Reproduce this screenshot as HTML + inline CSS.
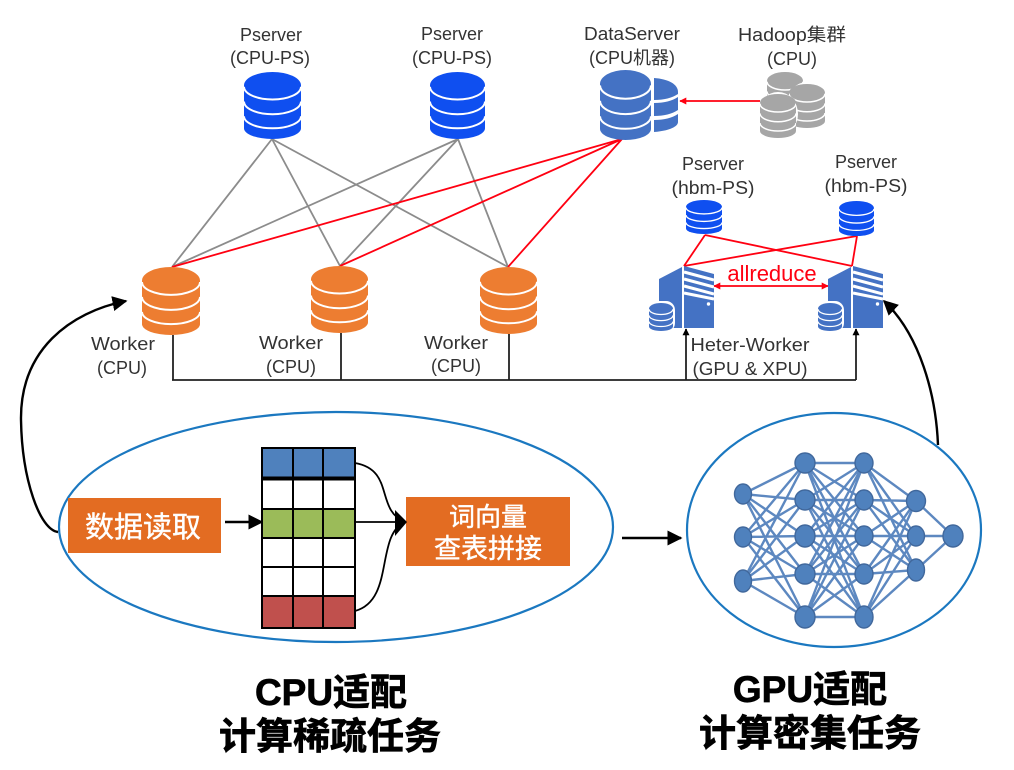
<!DOCTYPE html>
<html>
<head>
<meta charset="utf-8">
<style>
html,body{margin:0;padding:0;background:#fff;width:1014px;height:770px;overflow:hidden}
svg{display:block}
text{font-family:"Liberation Sans","Noto Sans CJK SC",sans-serif}
.l{font-size:18px;fill:#333;text-anchor:middle}
.w{fill:#fff;stroke:#fff;stroke-width:.4;text-anchor:middle}
.t{font-size:37px;font-weight:bold;fill:#000;stroke:#000;stroke-width:.7;text-anchor:middle}
</style>
</head>
<body>
<svg width="1014" height="770" viewBox="0 0 1014 770" xmlns="http://www.w3.org/2000/svg">
<defs>
<symbol id="db" viewBox="0 0 100 100" preserveAspectRatio="none">
<path d="M0 20A50 20 0 0 1 100 20V84A50 16 0 0 1 0 84Z" fill="currentColor"/>
<path vector-effect="non-scaling-stroke" d="M0 22A50 19 0 0 0 100 22M0 44A50 19 0 0 0 100 44M0 66A50 18 0 0 0 100 66" fill="none" stroke="#fff"/>
</symbol>
<marker id="ah" viewBox="0 0 10 10" refX="9" refY="5" markerWidth="7" markerHeight="7" orient="auto-start-reverse" markerUnits="userSpaceOnUse"><path d="M0 0L10 5L0 10Z" fill="#000"/></marker>
<marker id="ab" viewBox="0 0 10 10" refX="9" refY="5" markerWidth="15" markerHeight="15" orient="auto" markerUnits="userSpaceOnUse"><path d="M0 0L10 5L0 10Z" fill="#000"/></marker>
<marker id="ar" viewBox="0 0 10 10" refX="9" refY="5" markerWidth="7" markerHeight="7" orient="auto-start-reverse" markerUnits="userSpaceOnUse"><path d="M0 0L10 5L0 10Z" fill="#f01"/></marker>
<symbol id="srv" viewBox="0 0 55 63" preserveAspectRatio="none">
<path d="M0 13L23 1V62H0Z" fill="#4472c4"/>
<path d="M25 0L55 8V62H25Z" fill="#4472c4"/>
<path d="M25 6L55 14M25 13L55 21M25 20L55 28M25 27L55 33" stroke="#fff" stroke-width="3" fill="none"/>
<circle cx="49.5" cy="38" r="1.7" fill="#fff"/>
</symbol>
</defs>

<!-- gray connectors -->
<g stroke="#8c8c8c" stroke-width="1.8" fill="none">
<path d="M272 139L172 267M272 139L340 266M272 139L508 267M458 139L172 267M458 139L340 266M458 139L508 267"/>
</g>
<!-- red connectors -->
<g stroke="#f01" stroke-width="1.8" fill="none">
<path d="M622 139L172 267M622 139L340 266M622 139L508 267"/>
<path d="M705 235L684 266M705 235L852 266M857 236L684 266M857 236L852 266"/>
<path d="M760 101L680 101" marker-end="url(#ar)"/>
<path d="M714 286L828 286" marker-start="url(#ar)" marker-end="url(#ar)"/>
</g>

<!-- Pservers -->
<g stroke-width="2">
<use href="#db" x="244" y="72" width="57" height="67" color="#0f4ff0"/>
<use href="#db" x="430" y="72" width="55" height="67" color="#0f4ff0"/>
</g>
<g stroke-width="1.3">
<use href="#db" x="686" y="200" width="36" height="34" color="#0f4ff0"/>
<use href="#db" x="839" y="201" width="35" height="35" color="#0f4ff0"/>
</g>

<!-- DataServer -->
<use href="#db" x="600" y="70" width="51" height="70" color="#4472c4" stroke-width="2"/>
<path d="M654 78C668 79 678 84 678 92V94C672 98 664 100 654 100Z" fill="#4472c4"/>
<path d="M654 103C664 103 672 101 678 97V110C672 114 664 116 654 116Z" fill="#4472c4"/>
<path d="M654 120C664 120 672 118 678 114V122C678 127 668 131 654 132Z" fill="#4472c4"/>

<!-- Hadoop -->
<g stroke-width="1.5">
<use href="#db" x="767" y="72" width="36" height="44" color="#a6a6a6"/>
<ellipse cx="807" cy="104" rx="20" ry="22" fill="#fff"/>
<use href="#db" x="789" y="84" width="36" height="44" color="#a6a6a6"/>
<ellipse cx="778" cy="114" rx="20" ry="22" fill="#fff"/>
<use href="#db" x="760" y="94" width="36" height="44" color="#a6a6a6"/>
</g>

<!-- Workers -->
<g stroke-width="2">
<use href="#db" x="142" y="267" width="58" height="68" color="#ed7d31"/>
<use href="#db" x="311" y="266" width="57" height="67" color="#ed7d31"/>
<use href="#db" x="480" y="267" width="57" height="67" color="#ed7d31"/>
</g>

<!-- Heter workers -->
<use href="#srv" x="659" y="266" width="55" height="63"/>
<use href="#srv" x="828" y="266" width="55" height="63"/>
<rect x="647" y="301" width="28" height="31" rx="9" fill="#fff"/>
<rect x="816" y="301" width="28" height="31" rx="9" fill="#fff"/>
<g stroke-width="1.3">
<use href="#db" x="649" y="303" width="24" height="28" color="#4472c4"/>
<use href="#db" x="818" y="303" width="24" height="28" color="#4472c4"/>
</g>

<!-- black bus -->
<g stroke="#222" stroke-width="1.8" fill="none">
<path d="M173 335V380M341 333V380M509 334V380M172 380H856"/>
<path d="M686 380V329" marker-end="url(#ah)"/>
<path d="M856 380V329" marker-end="url(#ah)"/>
</g>

<!-- labels -->
<text class="l" x="271" y="41">Pserver</text><text class="l" x="270" y="64">(CPU-PS)</text>
<text class="l" x="452" y="40">Pserver</text><text class="l" x="452" y="64">(CPU-PS)</text>
<text class="l" x="632" y="40" textLength="96" lengthAdjust="spacingAndGlyphs">DataServer</text><text class="l" x="632" y="64">(CPU机器)</text>
<text class="l" x="792" y="41" textLength="108" lengthAdjust="spacingAndGlyphs">Hadoop集群</text><text class="l" x="792" y="65">(CPU)</text>
<text class="l" x="713" y="170">Pserver</text><text class="l" x="713" y="194" textLength="83" lengthAdjust="spacingAndGlyphs">(hbm-PS)</text>
<text class="l" x="866" y="168">Pserver</text><text class="l" x="866" y="192" textLength="83" lengthAdjust="spacingAndGlyphs">(hbm-PS)</text>
<text class="l" x="123" y="350" textLength="64" lengthAdjust="spacingAndGlyphs">Worker</text><text class="l" x="122" y="374">(CPU)</text>
<text class="l" x="291" y="349" textLength="64" lengthAdjust="spacingAndGlyphs">Worker</text><text class="l" x="291" y="373">(CPU)</text>
<text class="l" x="456" y="349" textLength="64" lengthAdjust="spacingAndGlyphs">Worker</text><text class="l" x="456" y="372">(CPU)</text>
<text class="l" x="750" y="351" textLength="119" lengthAdjust="spacingAndGlyphs">Heter-Worker</text><text class="l" x="750" y="375" textLength="115" lengthAdjust="spacingAndGlyphs">(GPU &amp; XPU)</text>
<text x="772" y="281" style="font-size:22px;fill:#f01;text-anchor:middle">allreduce</text>

<!-- ellipses -->
<ellipse cx="336" cy="527" rx="277" ry="115" fill="none" stroke="#1b78c0" stroke-width="2.2"/>
<ellipse cx="834" cy="530" rx="147" ry="117" fill="none" stroke="#1b78c0" stroke-width="2.2"/>

<!-- big curves -->
<g fill="none" stroke="#000" stroke-width="2.4">
<path d="M58 532C40 530 22 480 21 420C20 350 70 312 126 301" marker-end="url(#ab)"/>
<path d="M938 445C936 395 920 335 884 301" marker-end="url(#ab)"/>
<path d="M622 538H681" marker-end="url(#ab)"/>
<path d="M225 522H262" marker-end="url(#ab)"/>
</g>

<!-- orange boxes -->
<rect x="68" y="498" width="153" height="55" fill="#e36c22"/>
<text class="w" x="143" y="537" style="font-size:29px">数据读取</text>
<rect x="406" y="497" width="164" height="69" fill="#e36c22"/>
<text class="w" x="488" y="526" style="font-size:26px">词向量</text>
<text class="w" x="488" y="558" style="font-size:27px">查表拼接</text>

<!-- table -->
<rect x="262" y="448" width="93" height="31" fill="#4f81bd"/>
<rect x="262" y="509" width="93" height="29" fill="#9bbb59"/>
<rect x="262" y="596" width="93" height="32" fill="#c0504d"/>
<g stroke="#000" stroke-width="2" fill="none">
<rect x="262" y="448" width="93" height="180"/>
<path d="M293 448V628M323 448V628M262 509H355M262 538H355M262 567H355M262 596H355"/>
<path d="M262 478.500H355" stroke-width="4"/>
</g>
<g fill="none" stroke="#000" stroke-width="1.8">
<path d="M355 463C395 470 375 510 405 522"/>
<path d="M355 522H405"/>
<path d="M355 611C395 600 375 535 405 522"/>
</g>
<path d="M395 510L407 522L395 536Z" fill="#000"/>

<!-- neural net -->
<g stroke="#5d88c0" stroke-width="2.4" fill="none">
<path d="M743 494L805 463M743 494L805 500M743 494L805 536M743 494L805 574M743 494L805 617M743 537L805 463M743 537L805 500M743 537L805 536M743 537L805 574M743 537L805 617M743 581L805 463M743 581L805 500M743 581L805 536M743 581L805 574M743 581L805 617"/>
<path d="M805 463L864 463M805 463L864 500M805 463L864 536M805 463L864 574M805 463L864 617M805 500L864 463M805 500L864 500M805 500L864 536M805 500L864 574M805 500L864 617M805 536L864 463M805 536L864 500M805 536L864 536M805 536L864 574M805 536L864 617M805 574L864 463M805 574L864 500M805 574L864 536M805 574L864 574M805 574L864 617M805 617L864 463M805 617L864 500M805 617L864 536M805 617L864 574M805 617L864 617"/>
<path d="M864 463L916 501M864 463L916 536M864 463L916 570M864 500L916 501M864 500L916 536M864 500L916 570M864 536L916 501M864 536L916 536M864 536L916 570M864 574L916 501M864 574L916 536M864 574L916 570M864 617L916 501M864 617L916 536M864 617L916 570"/>
<path d="M916 501L953 536M916 536L953 536M916 570L953 536"/>
</g>
<g fill="#4f81bd" stroke="#41689c" stroke-width="1.4">
<ellipse cx="743" cy="494" rx="8.500" ry="10"/><ellipse cx="743" cy="537" rx="8.500" ry="10"/><ellipse cx="743" cy="581" rx="8.500" ry="11"/>
<ellipse cx="805" cy="463" rx="10" ry="10"/><ellipse cx="805" cy="500" rx="10" ry="10"/><ellipse cx="805" cy="536" rx="10" ry="11"/><ellipse cx="805" cy="574" rx="10" ry="10"/><ellipse cx="805" cy="617" rx="10" ry="11"/>
<ellipse cx="864" cy="463" rx="9" ry="10"/><ellipse cx="864" cy="500" rx="9" ry="10"/><ellipse cx="864" cy="536" rx="9" ry="10"/><ellipse cx="864" cy="574" rx="9" ry="10"/><ellipse cx="864" cy="617" rx="9" ry="11"/>
<ellipse cx="916" cy="501" rx="9.500" ry="10.500"/><ellipse cx="916" cy="536" rx="8.500" ry="10"/><ellipse cx="916" cy="570" rx="8.500" ry="11"/>
<ellipse cx="953" cy="536" rx="10" ry="11"/>
</g>

<!-- titles -->
<text class="t" x="331" y="705">CPU适配</text>
<text class="t" x="330" y="749">计算稀疏任务</text>
<text class="t" x="810" y="702">GPU适配</text>
<text class="t" x="810" y="746">计算密集任务</text>
</svg>
</body>
</html>
